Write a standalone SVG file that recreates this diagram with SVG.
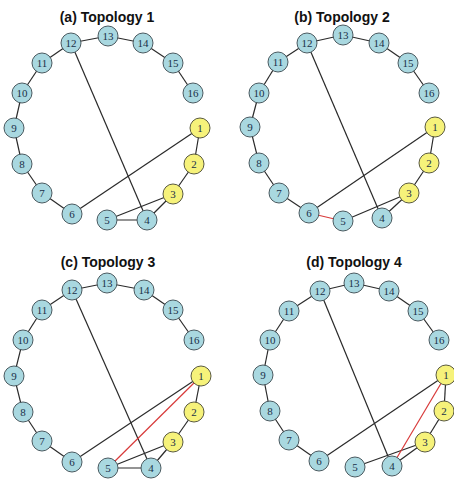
<svg xmlns="http://www.w3.org/2000/svg" width="454" height="480" viewBox="0 0 454 480">
<style>
.t{font-family:"Liberation Sans",Arial,sans-serif;font-weight:bold;font-size:14px;fill:#111;text-anchor:middle}
.b circle{fill:#a9d8e0;stroke:#4a5a60;stroke-width:1}
.y circle{fill:#f6f27a;stroke:#5a5a40;stroke-width:1}
.n text{font-family:"Liberation Serif","Times New Roman",serif;font-size:11px;fill:#1a3048;text-anchor:middle;dominant-baseline:central}
.e line{stroke:#2a2a2a;stroke-width:1.2}
.e line.r{stroke:#d83a3a}
</style>
<rect width="454" height="480" fill="#fff"/>
<text class="t" x="107" y="22">(a) Topology 1</text>
<text class="t" x="342" y="22">(b) Topology 2</text>
<text class="t" x="108" y="267">(c) Topology 3</text>
<text class="t" x="354" y="267">(d) Topology 4</text>

<g id="connectors-a" class="e">
<line x1="71" y1="43" x2="108" y2="36"/><line x1="108" y1="36" x2="143" y2="43"/><line x1="143" y1="43" x2="173" y2="63"/><line x1="173" y1="63" x2="193" y2="93"/>
<line x1="71" y1="43" x2="42" y2="63"/><line x1="42" y1="63" x2="22" y2="93"/><line x1="22" y1="93" x2="14" y2="128"/><line x1="14" y1="128" x2="22" y2="164"/><line x1="22" y1="164" x2="42" y2="193"/><line x1="42" y1="193" x2="72" y2="214"/>
<line x1="71" y1="43" x2="147" y2="220"/><line x1="200" y1="128" x2="72" y2="214"/>
<line x1="200" y1="128" x2="194" y2="164"/><line x1="194" y1="164" x2="173" y2="194"/><line x1="173" y1="194" x2="147" y2="220"/><line x1="173" y1="194" x2="107" y2="220"/><line x1="107" y1="220" x2="147" y2="220"/>
</g>
<g id="connectors-b" class="e">
<line x1="307" y1="43" x2="343" y2="35"/><line x1="343" y1="35" x2="379" y2="43"/><line x1="379" y1="43" x2="408" y2="63"/><line x1="408" y1="63" x2="429" y2="93"/>
<line x1="307" y1="43" x2="278" y2="62"/><line x1="278" y1="62" x2="259" y2="93"/><line x1="259" y1="93" x2="250" y2="127"/><line x1="250" y1="127" x2="259" y2="163"/><line x1="259" y1="163" x2="279" y2="193"/><line x1="279" y1="193" x2="309" y2="213"/>
<line x1="307" y1="43" x2="382" y2="218"/><line x1="435" y1="127" x2="309" y2="213"/>
<line x1="435" y1="127" x2="429" y2="163"/><line x1="429" y1="163" x2="409" y2="193"/><line x1="409" y1="193" x2="382" y2="218"/><line x1="409" y1="193" x2="343" y2="221"/>
<line class="r" x1="309" y1="213" x2="343" y2="221"/>
</g>
<g id="connectors-c" class="e">
<line x1="72" y1="290" x2="107" y2="283"/><line x1="107" y1="283" x2="144" y2="290"/><line x1="144" y1="290" x2="173" y2="310"/><line x1="173" y1="310" x2="194" y2="340"/>
<line x1="72" y1="290" x2="42" y2="310"/><line x1="42" y1="310" x2="23" y2="340"/><line x1="23" y1="340" x2="14" y2="376"/><line x1="14" y1="376" x2="23" y2="412"/><line x1="23" y1="412" x2="42" y2="441"/><line x1="42" y1="441" x2="72" y2="462"/>
<line x1="72" y1="290" x2="151" y2="468"/><line x1="201" y1="376" x2="72" y2="462"/>
<line x1="201" y1="376" x2="194" y2="412"/><line x1="194" y1="412" x2="173" y2="442"/><line x1="173" y1="442" x2="151" y2="468"/><line x1="173" y1="442" x2="108" y2="468"/><line x1="108" y1="468" x2="151" y2="468"/>
<line class="r" x1="201" y1="376" x2="108" y2="468"/>
</g>
<g id="connectors-d" class="e">
<line x1="320" y1="291" x2="354" y2="283"/><line x1="354" y1="283" x2="389" y2="291"/><line x1="389" y1="291" x2="418" y2="311"/><line x1="418" y1="311" x2="439" y2="340"/>
<line x1="320" y1="291" x2="289" y2="311"/><line x1="289" y1="311" x2="270" y2="340"/><line x1="270" y1="340" x2="263" y2="375"/><line x1="263" y1="375" x2="270" y2="411"/><line x1="270" y1="411" x2="289" y2="440"/><line x1="289" y1="440" x2="319" y2="461"/>
<line x1="320" y1="291" x2="392" y2="466"/><line x1="446" y1="375" x2="319" y2="461"/>
<line x1="446" y1="375" x2="444" y2="411"/><line x1="444" y1="411" x2="425" y2="442"/><line x1="425" y1="442" x2="392" y2="466"/><line x1="425" y1="442" x2="355" y2="467"/>
<line class="r" x1="446" y1="375" x2="392" y2="466"/>
</g>

<g id="a1" class="n y"><circle cx="200" cy="128" r="10"/><text x="200" y="128">1</text></g>
<g id="a2" class="n y"><circle cx="194" cy="164" r="10"/><text x="194" y="164">2</text></g>
<g id="a3" class="n y"><circle cx="173" cy="194" r="10"/><text x="173" y="194">3</text></g>
<g id="a4" class="n b"><circle cx="147" cy="220" r="10"/><text x="147" y="220">4</text></g>
<g id="a5" class="n b"><circle cx="107" cy="220" r="10"/><text x="107" y="220">5</text></g>
<g id="a6" class="n b"><circle cx="72" cy="214" r="10"/><text x="72" y="214">6</text></g>
<g id="a7" class="n b"><circle cx="42" cy="193" r="10"/><text x="42" y="193">7</text></g>
<g id="a8" class="n b"><circle cx="22" cy="164" r="10"/><text x="22" y="164">8</text></g>
<g id="a9" class="n b"><circle cx="14" cy="128" r="10"/><text x="14" y="128">9</text></g>
<g id="a10" class="n b"><circle cx="22" cy="93" r="10"/><text x="22" y="93">10</text></g>
<g id="a11" class="n b"><circle cx="42" cy="63" r="10"/><text x="42" y="63">11</text></g>
<g id="a12" class="n b"><circle cx="71" cy="43" r="10"/><text x="71" y="43">12</text></g>
<g id="a13" class="n b"><circle cx="108" cy="36" r="10"/><text x="108" y="36">13</text></g>
<g id="a14" class="n b"><circle cx="143" cy="43" r="10"/><text x="143" y="43">14</text></g>
<g id="a15" class="n b"><circle cx="173" cy="63" r="10"/><text x="173" y="63">15</text></g>
<g id="a16" class="n b"><circle cx="193" cy="93" r="10"/><text x="193" y="93">16</text></g>

<g id="b1" class="n y"><circle cx="435" cy="127" r="10"/><text x="435" y="127">1</text></g>
<g id="b2" class="n y"><circle cx="429" cy="163" r="10"/><text x="429" y="163">2</text></g>
<g id="b3" class="n y"><circle cx="409" cy="193" r="10"/><text x="409" y="193">3</text></g>
<g id="b4" class="n b"><circle cx="382" cy="218" r="10"/><text x="382" y="218">4</text></g>
<g id="b5" class="n b"><circle cx="343" cy="221" r="10"/><text x="343" y="221">5</text></g>
<g id="b6" class="n b"><circle cx="309" cy="213" r="10"/><text x="309" y="213">6</text></g>
<g id="b7" class="n b"><circle cx="279" cy="193" r="10"/><text x="279" y="193">7</text></g>
<g id="b8" class="n b"><circle cx="259" cy="163" r="10"/><text x="259" y="163">8</text></g>
<g id="b9" class="n b"><circle cx="250" cy="127" r="10"/><text x="250" y="127">9</text></g>
<g id="b10" class="n b"><circle cx="259" cy="93" r="10"/><text x="259" y="93">10</text></g>
<g id="b11" class="n b"><circle cx="278" cy="62" r="10"/><text x="278" y="62">11</text></g>
<g id="b12" class="n b"><circle cx="307" cy="43" r="10"/><text x="307" y="43">12</text></g>
<g id="b13" class="n b"><circle cx="343" cy="35" r="10"/><text x="343" y="35">13</text></g>
<g id="b14" class="n b"><circle cx="379" cy="43" r="10"/><text x="379" y="43">14</text></g>
<g id="b15" class="n b"><circle cx="408" cy="63" r="10"/><text x="408" y="63">15</text></g>
<g id="b16" class="n b"><circle cx="429" cy="93" r="10"/><text x="429" y="93">16</text></g>

<g id="c1" class="n y"><circle cx="201" cy="376" r="10"/><text x="201" y="376">1</text></g>
<g id="c2" class="n y"><circle cx="194" cy="412" r="10"/><text x="194" y="412">2</text></g>
<g id="c3" class="n y"><circle cx="173" cy="442" r="10"/><text x="173" y="442">3</text></g>
<g id="c4" class="n b"><circle cx="151" cy="468" r="10"/><text x="151" y="468">4</text></g>
<g id="c5" class="n b"><circle cx="108" cy="468" r="10"/><text x="108" y="468">5</text></g>
<g id="c6" class="n b"><circle cx="72" cy="462" r="10"/><text x="72" y="462">6</text></g>
<g id="c7" class="n b"><circle cx="42" cy="441" r="10"/><text x="42" y="441">7</text></g>
<g id="c8" class="n b"><circle cx="23" cy="412" r="10"/><text x="23" y="412">8</text></g>
<g id="c9" class="n b"><circle cx="14" cy="376" r="10"/><text x="14" y="376">9</text></g>
<g id="c10" class="n b"><circle cx="23" cy="340" r="10"/><text x="23" y="340">10</text></g>
<g id="c11" class="n b"><circle cx="42" cy="310" r="10"/><text x="42" y="310">11</text></g>
<g id="c12" class="n b"><circle cx="72" cy="290" r="10"/><text x="72" y="290">12</text></g>
<g id="c13" class="n b"><circle cx="107" cy="283" r="10"/><text x="107" y="283">13</text></g>
<g id="c14" class="n b"><circle cx="144" cy="290" r="10"/><text x="144" y="290">14</text></g>
<g id="c15" class="n b"><circle cx="173" cy="310" r="10"/><text x="173" y="310">15</text></g>
<g id="c16" class="n b"><circle cx="194" cy="340" r="10"/><text x="194" y="340">16</text></g>

<g id="d1" class="n y"><circle cx="446" cy="375" r="10"/><text x="446" y="375">1</text></g>
<g id="d2" class="n y"><circle cx="444" cy="411" r="10"/><text x="444" y="411">2</text></g>
<g id="d3" class="n y"><circle cx="425" cy="442" r="10"/><text x="425" y="442">3</text></g>
<g id="d4" class="n b"><circle cx="392" cy="466" r="10"/><text x="392" y="466">4</text></g>
<g id="d5" class="n b"><circle cx="355" cy="467" r="10"/><text x="355" y="467">5</text></g>
<g id="d6" class="n b"><circle cx="319" cy="461" r="10"/><text x="319" y="461">6</text></g>
<g id="d7" class="n b"><circle cx="289" cy="440" r="10"/><text x="289" y="440">7</text></g>
<g id="d8" class="n b"><circle cx="270" cy="411" r="10"/><text x="270" y="411">8</text></g>
<g id="d9" class="n b"><circle cx="263" cy="375" r="10"/><text x="263" y="375">9</text></g>
<g id="d10" class="n b"><circle cx="270" cy="340" r="10"/><text x="270" y="340">10</text></g>
<g id="d11" class="n b"><circle cx="289" cy="311" r="10"/><text x="289" y="311">11</text></g>
<g id="d12" class="n b"><circle cx="320" cy="291" r="10"/><text x="320" y="291">12</text></g>
<g id="d13" class="n b"><circle cx="354" cy="283" r="10"/><text x="354" y="283">13</text></g>
<g id="d14" class="n b"><circle cx="389" cy="291" r="10"/><text x="389" y="291">14</text></g>
<g id="d15" class="n b"><circle cx="418" cy="311" r="10"/><text x="418" y="311">15</text></g>
<g id="d16" class="n b"><circle cx="439" cy="340" r="10"/><text x="439" y="340">16</text></g>
</svg>
